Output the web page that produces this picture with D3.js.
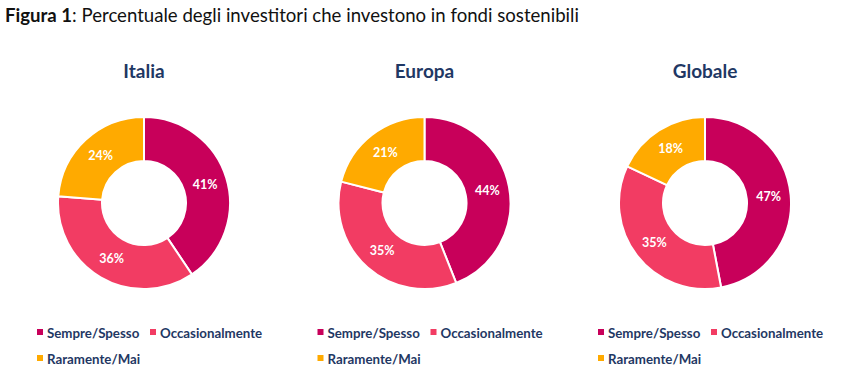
<!DOCTYPE html>
<html><head><meta charset="utf-8">
<script src="https://cdn.jsdelivr.net/npm/d3@7"></script>
<style>body{margin:0;background:#fff;}svg{display:block;}</style>
</head><body>
<script>
const regions = ["Italia", "Europa", "Globale"];
const categories = ["Sempre/Spesso", "Occasionalmente", "Raramente/Mai"];
const italia = [41, 36, 24];
const europa = [44, 35, 21];
const globale = [47, 35, 18];
const seriesValues = [italia, europa, globale];
const colors = ["#C8005A", "#F23C63", "#FFAA00"];

const W = 865, H = 387;
const svg = d3.select("body").append("svg").attr("width", W).attr("height", H);
const font = "Lato, 'Open Sans', sans-serif";

const t = svg.append("text").attr("x", 5).attr("y", 22).attr("font-family", font)
  .attr("font-size", 18.6).attr("fill", "#111");
t.append("tspan").attr("font-weight", "bold").text("Figura 1");
t.append("tspan").text(": Percentuale degli investitori che investono in fondi sostenibili");

const cx = d3.scalePoint().domain(regions).range([144, 705]);
const cy = 203, rOut = 86, rIn = 42;
const pie = d3.pie().sort(null).startAngle(0).endAngle(2 * Math.PI);
const arc = d3.arc().innerRadius(rIn).outerRadius(rOut);
const labelArc = d3.arc().innerRadius(64).outerRadius(64);

regions.forEach((reg, i) => {
  const g = svg.append("g").attr("transform", `translate(${cx(reg)},${cy})`);
  svg.append("text").attr("x", cx(reg)).attr("y", 78).attr("text-anchor", "middle")
    .attr("font-family", font).attr("font-weight", "bold").attr("font-size", 19)
    .attr("fill", "#1F3864").text(reg);
  const arcs = pie(seriesValues[i]);
  g.selectAll("path").data(arcs).join("path").attr("d", arc)
    .attr("fill", (d, j) => colors[j]).attr("stroke", "#fff").attr("stroke-width", 2);
  g.selectAll("text").data(arcs).join("text")
    .attr("transform", d => `translate(${labelArc.centroid(d)})`)
    .attr("text-anchor", "middle").attr("dy", "0.35em")
    .attr("font-family", font).attr("font-weight", "bold").attr("font-size", 12.5)
    .attr("fill", "#fff").text(d => d.data + "%");

  const lx = cx(reg) - 107;
  const pos = [[lx, 333], [lx + 113, 333], [lx, 359]];
  categories.forEach((c, j) => {
    svg.append("rect").attr("x", pos[j][0]).attr("y", pos[j][1] - 4).attr("width", 6).attr("height", 6)
      .attr("fill", colors[j]);
    svg.append("text").attr("x", pos[j][0] + 10).attr("y", pos[j][1]).attr("dy", "0.35em")
      .attr("font-family", font).attr("font-weight", "bold").attr("font-size", 13.3)
      .attr("fill", "#1F3864").text(c);
  });
});
</script>
</body></html>
